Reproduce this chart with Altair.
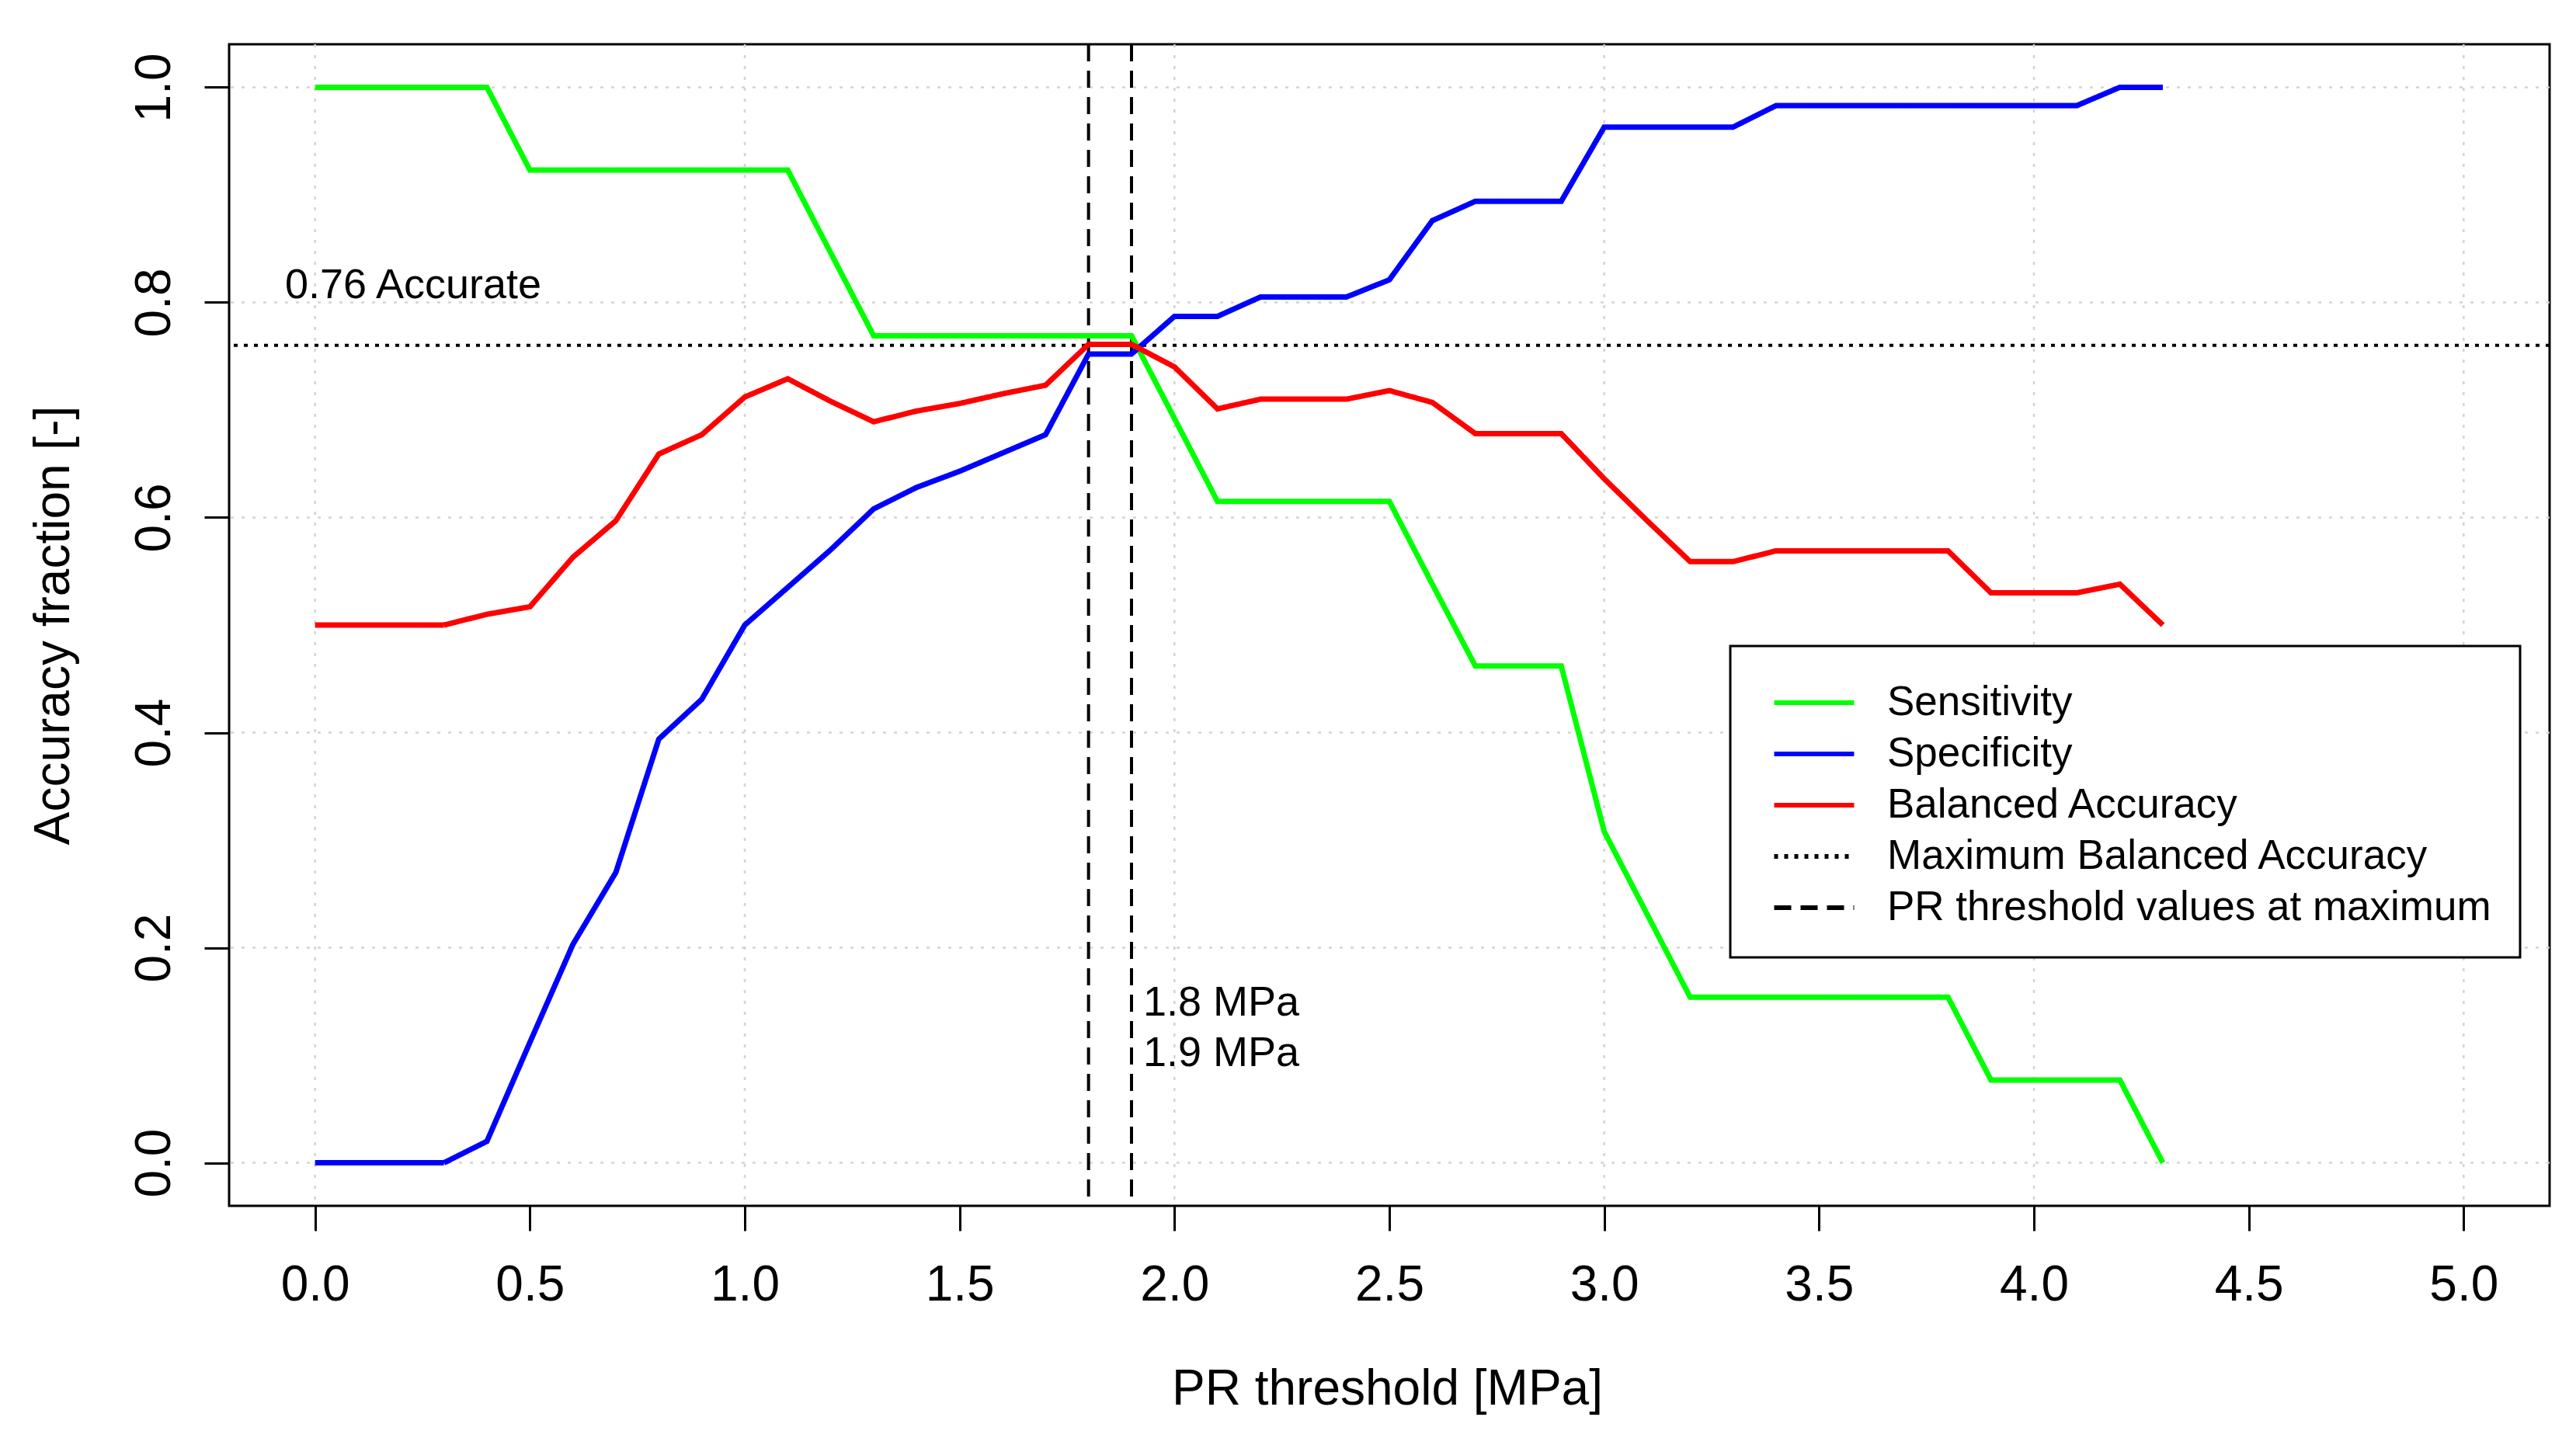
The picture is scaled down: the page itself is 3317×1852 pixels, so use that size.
import altair as alt
import pandas as pd

# ---------------- data ----------------
thresholds = [0.0, 0.1, 0.2, 0.3, 0.4, 0.5, 0.6, 0.7, 0.8, 0.9,
              1.0, 1.1, 1.2, 1.3, 1.4, 1.5, 1.6, 1.7, 1.8, 1.9,
              2.0, 2.1, 2.2, 2.3, 2.4, 2.5, 2.6, 2.7, 2.8, 2.9,
              3.0, 3.1, 3.2, 3.3, 3.4, 3.5, 3.6, 3.7, 3.8, 3.9,
              4.0, 4.1, 4.2, 4.3]

sensitivity = [1.0, 1.0, 1.0, 1.0, 1.0, 0.923, 0.923, 0.923, 0.923, 0.923,
               0.923, 0.923, 0.846, 0.769, 0.769, 0.769, 0.769, 0.769, 0.769, 0.769,
               0.692, 0.615, 0.615, 0.615, 0.615, 0.615, 0.538, 0.462, 0.462, 0.462,
               0.308, 0.231, 0.154, 0.154, 0.154, 0.154, 0.154, 0.154, 0.154, 0.077,
               0.077, 0.077, 0.077, 0.0]

specificity = [0.0, 0.0, 0.0, 0.0, 0.020, 0.112, 0.203, 0.270, 0.394, 0.431,
               0.500, 0.535, 0.570, 0.608, 0.628, 0.643, 0.660, 0.677, 0.752, 0.752,
               0.787, 0.787, 0.805, 0.805, 0.805, 0.821, 0.876, 0.894, 0.894, 0.894,
               0.963, 0.963, 0.963, 0.963, 0.983, 0.983, 0.983, 0.983, 0.983, 0.983,
               0.983, 0.983, 1.0, 1.0]

balanced = [0.500, 0.500, 0.500, 0.500, 0.510, 0.517, 0.563, 0.597, 0.659, 0.677,
            0.712, 0.729, 0.708, 0.689, 0.699, 0.706, 0.715, 0.723, 0.761, 0.761,
            0.740, 0.701, 0.710, 0.710, 0.710, 0.718, 0.707, 0.678, 0.678, 0.678,
            0.636, 0.597, 0.559, 0.559, 0.569, 0.569, 0.569, 0.569, 0.569, 0.530,
            0.530, 0.530, 0.538, 0.500]

series_names = ["Sensitivity", "Specificity", "Balanced Accuracy",
                "Maximum Balanced Accuracy", "PR threshold values at maximum"]
series_colors = ["#00FF00", "#0000FF", "#FF0000", "#000000", "#000000"]
series_dashes = [[1, 0], [1, 0], [1, 0], [5, 8], [22, 12]]

max_balanced = [0.76]
max_thresholds = [1.8, 1.9]

grid_x = [0, 1, 2, 3, 4, 5]
grid_y = [0.0, 0.2, 0.4, 0.6, 0.8, 1.0]
x_ticks = [0.0, 0.5, 1.0, 1.5, 2.0, 2.5, 3.0, 3.5, 4.0, 4.5, 5.0]
y_ticks = [0.0, 0.2, 0.4, 0.6, 0.8, 1.0]

label_text = ["0.76 Accurate", "1.8 MPa", "1.9 MPa"]
label_x = [-0.07, 1.927, 1.927]
label_y = [0.804, 0.137, 0.090]

# ---------------- tables ----------------
rows = []
for name, vals in zip(series_names[:3], [sensitivity, specificity, balanced]):
    for t, v in zip(thresholds, vals):
        rows.append({"x": t, "y": v, "series": name})
lines_df = pd.DataFrame(rows)
hline_df = pd.DataFrame({"y": max_balanced, "series": [series_names[3]] * len(max_balanced)})
vline_df = pd.DataFrame({"x": max_thresholds, "series": [series_names[4]] * len(max_thresholds)})
gx_df = pd.DataFrame({"x": grid_x})
gy_df = pd.DataFrame({"y": grid_y})
txt_df = pd.DataFrame({"x": label_x, "y": label_y, "label": label_text})

FONT = "Liberation Sans"
W, H = 2988, 1496

xscale = alt.Scale(domain=[-0.2, 5.2], nice=False, zero=False)
yscale = alt.Scale(domain=[-0.04, 1.04], nice=False, zero=False)

x_axis = alt.Axis(values=x_ticks, format=".1f", title="PR threshold [MPa]",
                  labelPadding=38, labelBaseline="top",
                  titleX=W / 2 - 3, titleY=255, titleBaseline="alphabetic", titleAlign="center")
y_axis = alt.Axis(values=y_ticks, format=".1f", title="Accuracy fraction [-]",
                  labelAngle=-90, labelAlign="center", labelBaseline="alphabetic",
                  labelPadding=45,
                  titleAngle=-90, titleX=-207, titleY=H / 2, titleBaseline="alphabetic",
                  titleAlign="center")

legend = alt.Legend(title=None, orient="none", legendX=1933, legendY=775,
                    symbolType="M -0.5 0 H 2.62", symbolSize=4356, symbolStrokeWidth=6,
                    labelFont=FONT, labelFontSize=53, labelColor="black",
                    labelOffset=93, labelLimit=3000, padding=37, rowPadding=3,
                    strokeColor="black", fillColor="white")

color_enc = alt.Color("series:N", scale=alt.Scale(domain=series_names, range=series_colors),
                      legend=legend)
dash_enc = alt.StrokeDash("series:N", scale=alt.Scale(domain=series_names, range=series_dashes),
                          legend=legend)

grid_v = alt.Chart(gx_df).mark_rule(color="#D3D3D3", strokeWidth=2.5, strokeDash=[4, 10]).encode(
    x=alt.X("x:Q", scale=xscale, axis=x_axis))
grid_h = alt.Chart(gy_df).mark_rule(color="#D3D3D3", strokeWidth=2.5, strokeDash=[4, 10]).encode(
    y=alt.Y("y:Q", scale=yscale, axis=y_axis))

lines = alt.Chart(lines_df).mark_line(strokeWidth=7).encode(
    x=alt.X("x:Q", scale=xscale, axis=x_axis),
    y=alt.Y("y:Q", scale=yscale, axis=y_axis),
    color=color_enc,
    strokeDash=dash_enc,
    order=alt.Order("x:Q"),
)

hline = alt.Chart(hline_df).mark_rule(strokeWidth=4).encode(
    y=alt.Y("y:Q", scale=yscale, axis=y_axis),
    color=color_enc,
    strokeDash=dash_enc,
)
vline = alt.Chart(vline_df).mark_rule(strokeWidth=4).encode(
    x=alt.X("x:Q", scale=xscale, axis=x_axis),
    color=color_enc,
    strokeDash=dash_enc,
)

texts = alt.Chart(txt_df).mark_text(align="left", baseline="alphabetic", fontSize=54,
                                     font=FONT, color="black").encode(
    x=alt.X("x:Q", scale=xscale, axis=x_axis),
    y=alt.Y("y:Q", scale=yscale, axis=y_axis),
    text="label:N",
)

chart = alt.layer(grid_v, grid_h, hline, vline, lines, texts).properties(
    width=W, height=H,
    autosize=alt.AutoSizeParams(type="none"),
    padding={"left": 287, "top": 49, "right": 20, "bottom": 280},
    background="white",
).configure_view(
    stroke="black", strokeWidth=3
).configure_axis(
    domain=False, grid=False, ticks=True, tickColor="black", tickWidth=3, tickSize=32,
    labelFont=FONT, labelFontSize=64, labelColor="black",
    titleFont=FONT, titleFontSize=64, titleColor="black", titleFontWeight="normal",
).configure_legend(
    strokeWidth=3
)

chart.save("out.html", embed_options={"renderer": "svg", "actions": False})
